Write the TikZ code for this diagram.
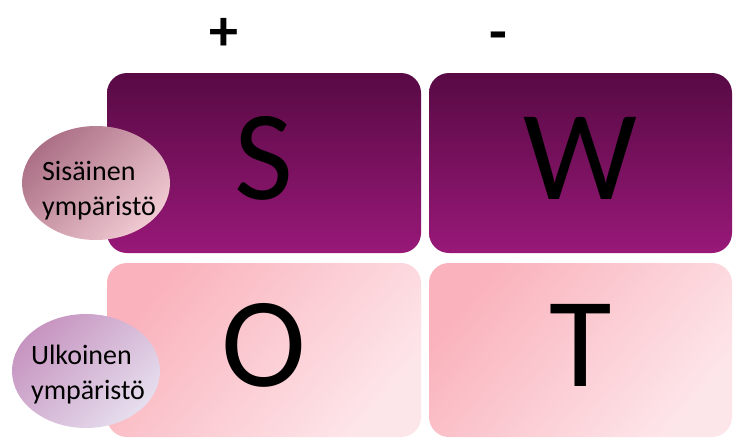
\documentclass[tikz,border=0pt]{standalone}
\usepackage{fontspec}
\setmainfont{Carlito}
\usepackage{xcolor}
\definecolor{swdark}{RGB}{88,10,68}
\definecolor{swmagenta}{RGB}{152,24,120}
\definecolor{swpink}{RGB}{250,178,188}
\definecolor{swpale}{RGB}{253,230,234}
\definecolor{swrose}{RGB}{172,112,134}
\definecolor{swroselt}{RGB}{240,202,210}
\definecolor{swlilac}{RGB}{198,148,192}
\definecolor{swlilaclt}{RGB}{230,222,238}
\usetikzlibrary{shapes.geometric}

\begin{document}
\begin{tikzpicture}[x=1pt, y=-1pt,
  letter/.style={rectangle, rounded corners=20pt, inner sep=0pt,
                 text depth=10pt, font=\fontsize{128}{130}\selectfont},
  inbox/.style={letter, top color=swdark, bottom color=swmagenta,
                minimum height=180pt},
  outbox/.style={letter, top color=swpink, bottom color=swpale,
                 shading angle=50, minimum height=174pt},
  env/.style={ellipse, inner sep=0pt, minimum width=148pt,
              minimum height=114pt},
  envtext/.style={inner sep=0pt, font=\fontsize{28}{35}\selectfont},
  sign/.style={anchor=base, font=\fontsize{58}{60}\selectfont\bfseries}
]
\useasboundingbox (0,0) rectangle (734,437);

% Column signs
\node[sign] (plus)  at (224,50) {+};
\node[sign] (minus) at (498,51) {-};

% SWOT boxes
\node[inbox,  minimum width=314pt] (s) at (264,163)   {S};
\node[inbox,  minimum width=303pt] (w) at (580.5,163) {W};
\node[outbox, minimum width=314pt] (o) at (264,350)   {O};
\node[outbox, minimum width=303pt] (t) at (580.5,350) {T};

% Row labels
\node[env, top color=swrose, bottom color=swroselt, shading angle=45] (sis) at (96,183) {};
\node[envtext] at ([xshift=3pt,yshift=-8pt]sis.center)
  {\begin{tabular}{@{}l@{}}Sisäinen\\ympäristö\end{tabular}};

\node[env, top color=swlilac, bottom color=swlilaclt, shading angle=45] (ulk) at (86,371) {};
\node[envtext] at ([xshift=2pt,yshift=-4pt]ulk.center)
  {\begin{tabular}{@{}l@{}}Ulkoinen\\ympäristö\end{tabular}};
\end{tikzpicture}
\end{document}
